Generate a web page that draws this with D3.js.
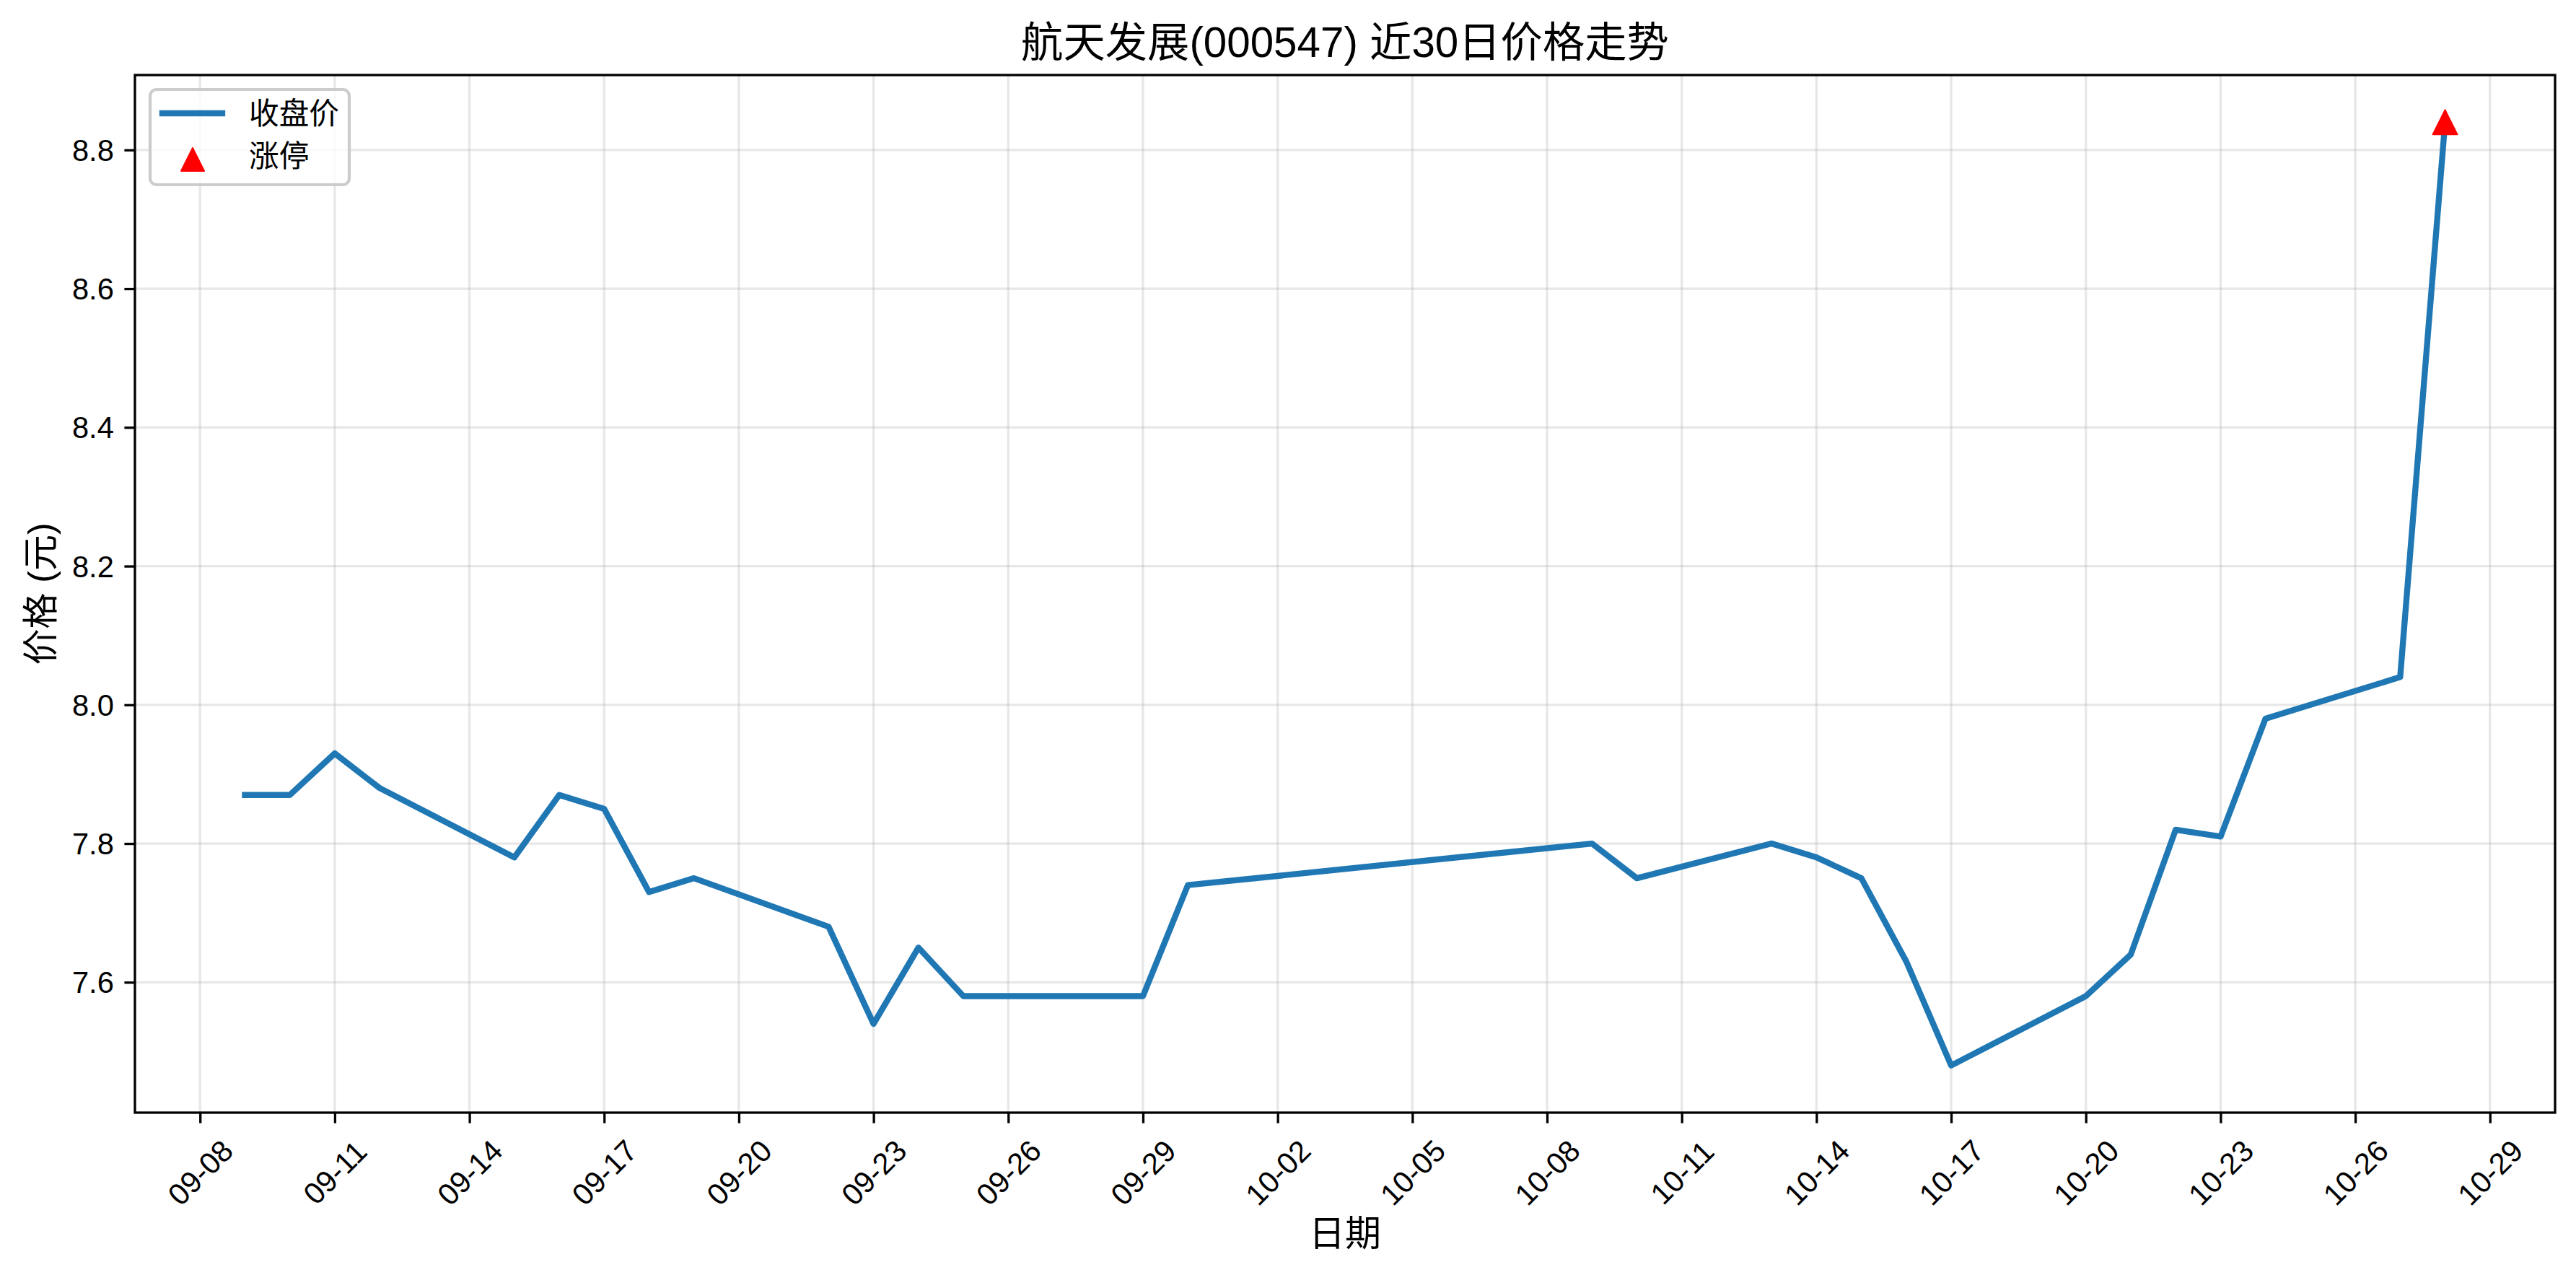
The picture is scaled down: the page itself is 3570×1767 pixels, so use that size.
<!DOCTYPE html>
<html>
<head>
<meta charset="utf-8">
<script src="https://cdn.jsdelivr.net/npm/d3@7"></script>
<style>
  html, body { margin: 0; padding: 0; background: #ffffff; }
  svg { display: block; }
  text { font-family: "Liberation Sans", "Noto Sans CJK SC", sans-serif; fill: #000; }
</style>
</head>
<body>
<svg id="chart" width="3570" height="1767"></svg>
<script>
// ---- data ----
const year = 2025;
const dates = ["09-09","09-10","09-11","09-12","09-15","09-16","09-17","09-18","09-19","09-22",
               "09-23","09-24","09-25","09-26","09-29","09-30","10-09","10-10","10-13","10-14",
               "10-15","10-16","10-17","10-20","10-21","10-22","10-23","10-24","10-27","10-28"];
const closes = [7.87,7.87,7.93,7.88,7.78,7.87,7.85,7.73,7.75,7.68,
                7.54,7.65,7.58,7.58,7.58,7.74,7.80,7.75,7.80,7.78,
                7.75,7.63,7.48,7.58,7.64,7.82,7.81,7.98,8.04,8.84];
const limitUpDates = ["10-28"];
const limitUpValues = [8.84];
const xTickLabels = ["09-08","09-11","09-14","09-17","09-20","09-23","09-26","09-29","10-02",
                     "10-05","10-08","10-11","10-14","10-17","10-20","10-23","10-26","10-29"];
const yTickValues = [7.6, 7.8, 8.0, 8.2, 8.4, 8.6, 8.8];
const titleText = "航天发展(000547) 近30日价格走势";
const xLabel = "日期";
const yLabel = "价格 (元)";
const legendLabels = ["收盘价", "涨停"];

// ---- layout ----
const W = 3570, H = 1767;
const plot = { left: 187, right: 3541, top: 104, bottom: 1542 };
const BLUE = "#1f77b4";
const tickFont = 41.67, labelFont = 50, titleFont = 58.33;

const parse = d3.timeParse("%Y-%m-%d");
const toDate = s => parse(year + "-" + s);
const data = dates.map((d, i) => ({ date: toDate(d), value: closes[i] }));
const limitData = limitUpDates.map((d, i) => ({ date: toDate(d), value: limitUpValues[i] }));

// matplotlib-style 5% margins
const xExt = d3.extent(data, d => d.date);
const xSpan = xExt[1] - xExt[0];
const xDomain = [new Date(+xExt[0] - xSpan * 0.05), new Date(+xExt[1] + xSpan * 0.05)];
const yVals = data.map(d => d.value).concat(limitUpValues);
const yExt = d3.extent(yVals);
const ySpan = yExt[1] - yExt[0];
const yDomain = [yExt[0] - ySpan * 0.05, yExt[1] + ySpan * 0.05];

const x = d3.scaleTime().domain(xDomain).range([plot.left, plot.right]);
const y = d3.scaleLinear().domain(yDomain).range([plot.bottom, plot.top]);

const svg = d3.select("#chart");
svg.append("rect").attr("width", W).attr("height", H).attr("fill", "#fff");

const xTicks = xTickLabels.map(toDate);

// grid
const grid = svg.append("g");
grid.selectAll(".gx").data(xTicks).enter().append("line")
  .attr("x1", d => x(d)).attr("x2", d => x(d))
  .attr("y1", plot.top).attr("y2", plot.bottom)
  .attr("stroke", "#b0b0b0").attr("stroke-opacity", 0.3).attr("stroke-width", 3.3);
grid.selectAll(".gy").data(yTickValues).enter().append("line")
  .attr("x1", plot.left).attr("x2", plot.right)
  .attr("y1", d => y(d)).attr("y2", d => y(d))
  .attr("stroke", "#b0b0b0").attr("stroke-opacity", 0.3).attr("stroke-width", 3.3);

// line
const line = d3.line().x(d => x(d.date)).y(d => y(d.value));
svg.append("path").datum(data)
  .attr("d", line).attr("fill", "none")
  .attr("stroke", BLUE).attr("stroke-width", 8.33)
  .attr("stroke-linejoin", "round").attr("stroke-linecap", "square");

// limit-up markers
const tri = d3.symbol().type(d3.symbolTriangle);
function triPath(size) {
  const h = size, w = size;
  return `M0,${-h/2}L${w/2},${h/2}L${-w/2},${h/2}Z`;
}
svg.selectAll(".lu").data(limitData).enter().append("path")
  .attr("d", triPath(34))
  .attr("transform", d => `translate(${x(d.date)},${y(d.value)})`)
  .attr("fill", "red").attr("stroke", "red").attr("stroke-width", 2).attr("stroke-linejoin", "round");

// axes
const xAxis = d3.axisBottom(x).tickValues(xTicks).tickFormat(d3.timeFormat("%m-%d"))
  .tickSizeInner(14.6).tickSizeOuter(0).tickPadding(14.6);
const gx = svg.append("g").attr("transform", `translate(0,${plot.bottom})`).call(xAxis);
gx.select(".domain").remove();
gx.selectAll(".tick line").attr("stroke", "#000").attr("stroke-width", 3.3);
gx.selectAll(".tick text")
  .attr("font-size", tickFont)
  .attr("y", null).attr("dy", null)
  .attr("text-anchor", "middle")
  .attr("dominant-baseline", "central")
  .attr("transform", "translate(0,83) rotate(-45)");

const yAxis = d3.axisLeft(y).tickValues(yTickValues).tickFormat(d3.format(".1f"))
  .tickSizeInner(14.6).tickSizeOuter(0).tickPadding(14.6);
const gy = svg.append("g").attr("transform", `translate(${plot.left},0)`).call(yAxis);
gy.select(".domain").remove();
gy.selectAll(".tick line").attr("stroke", "#000").attr("stroke-width", 3.3);
gy.selectAll(".tick text").attr("font-size", tickFont).attr("dy", null)
  .attr("dominant-baseline", "central");

// spines
svg.append("rect")
  .attr("x", plot.left).attr("y", plot.top)
  .attr("width", plot.right - plot.left).attr("height", plot.bottom - plot.top)
  .attr("fill", "none").attr("stroke", "#000").attr("stroke-width", 3.3);

// title & labels
svg.append("text").text(titleText)
  .attr("x", (plot.left + plot.right) / 2).attr("y", 58)
  .attr("text-anchor", "middle").attr("dominant-baseline", "central")
  .attr("font-size", titleFont);
svg.append("text").text(xLabel)
  .attr("x", (plot.left + plot.right) / 2).attr("y", 1710)
  .attr("text-anchor", "middle").attr("dominant-baseline", "central")
  .attr("font-size", labelFont);
svg.append("text").text(yLabel)
  .attr("transform", `translate(57,${(plot.top + plot.bottom) / 2}) rotate(-90)`)
  .attr("text-anchor", "middle").attr("dominant-baseline", "central")
  .attr("font-size", labelFont);

// legend
const lg = svg.append("g");
lg.append("rect")
  .attr("x", 208).attr("y", 124).attr("width", 276).attr("height", 132)
  .attr("rx", 9).attr("ry", 9)
  .attr("fill", "#fff").attr("fill-opacity", 0.8)
  .attr("stroke", "#cccccc").attr("stroke-width", 4.2);
lg.append("line")
  .attr("x1", 225).attr("x2", 308).attr("y1", 157).attr("y2", 157)
  .attr("stroke", BLUE).attr("stroke-width", 8.33).attr("stroke-linecap", "square");
lg.append("path").attr("d", triPath(32))
  .attr("transform", "translate(267,221)")
  .attr("fill", "red").attr("stroke", "red").attr("stroke-width", 2).attr("stroke-linejoin", "round");
lg.selectAll(".lt").data(legendLabels).enter().append("text")
  .text(d => d)
  .attr("x", 345).attr("y", (d, i) => 157 + i * 59)
  .attr("dominant-baseline", "central")
  .attr("font-size", tickFont);
</script>
</body>
</html>
